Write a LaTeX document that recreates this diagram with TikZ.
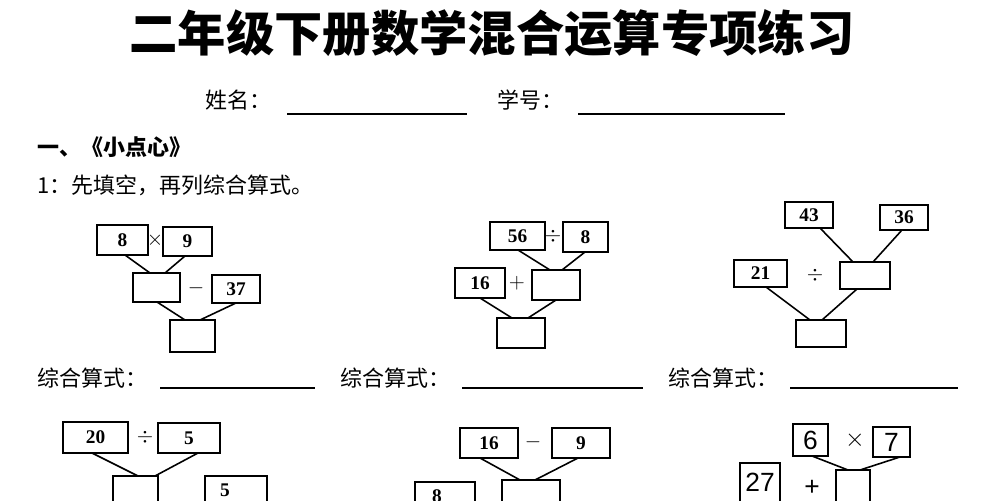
\documentclass[tikz,border=0pt]{standalone}
\usepackage{fontspec}
\setmainfont{Liberation Serif}
\newfontfamily\cjk{Noto Sans CJK SC}
\newfontfamily\sansf{Liberation Sans}
\begin{document}
\begin{tikzpicture}[x=0.02cm,y=-0.02cm,
 bx/.style={draw,line width=1.1pt},
 num/.style={font=\bfseries\fontsize{11pt}{11pt}\selectfont},
 big/.style={font=\sansf\fontsize{15pt}{15pt}\selectfont},
 op/.style={font=\fontsize{12pt}{12pt}\selectfont},
 ln/.style={line width=0.9pt},
 lbl/.style={anchor=west,inner sep=0,font=\cjk\fontsize{12.5pt}{14pt}\selectfont}]
\useasboundingbox (0,0) rectangle (1000,500);
\clip (0,0) rectangle (1000,500);
\node[font=\cjk\bfseries\fontsize{27.5pt}{30pt}\selectfont] (title) at (492,33) {二年级下册数学混合运算专项练习};
\node[lbl] (xm) at (205,100) {姓名：};
\draw[line width=0.8pt] (287,114) -- (467,114);
\node[lbl] (xh) at (497,100) {学号：};
\draw[line width=0.8pt] (578,114) -- (785,114);
\node[lbl,font=\cjk\bfseries\fontsize{12.5pt}{14pt}\selectfont] (s1) at (37,147) {一、《小点心》};
\node[lbl] (q1) at (37,185) {1：先填空，再列综合算式。};
% D1
\draw[bx] (97,225) rectangle (148,255) node[midway,num] (a1) {8};
\node[op] (a3) at (155,240) {$\times$};
\draw[bx] (163,227) rectangle (212,256) node[midway,num] (a2) {9};
\draw[bx] (133,273) rectangle (180,302);
\node[op] (a4) at (196,288) {$-$};
\draw[bx] (212,275) rectangle (260,303) node[midway,num] (a5) {37};
\draw[bx] (170,320) rectangle (215,352);
\draw[ln] (125,255)--(150,273) (185,256)--(165,273) (157,302)--(185,320) (236,303)--(200,320);
% D2
\draw[bx] (490,222) rectangle (545,250) node[midway,num] (b1) {56};
\node[op] (b2) at (553,236) {$\div$};
\draw[bx] (563,222) rectangle (608,252) node[midway,num] (b3) {8};
\draw[bx] (455,268) rectangle (505,298) node[midway,num] (b4) {16};
\node[op] (b5) at (517,283) {$+$};
\draw[bx] (532,270) rectangle (580,300);
\draw[bx] (497,318) rectangle (545,348);
\draw[ln] (518,250)--(550,270) (585,252)--(562,270) (480,298)--(512,318) (556,300)--(528,318);
% D3
\draw[bx] (785,202) rectangle (833,228) node[midway,num] (c1) {43};
\draw[bx] (880,205) rectangle (928,230) node[midway,num] (c2) {36};
\draw[bx] (734,260) rectangle (787,287) node[midway,num] (c3) {21};
\node[op] (c4) at (815,275) {$\div$};
\draw[bx] (840,262) rectangle (890,289);
\draw[bx] (796,320) rectangle (846,347);
\draw[ln] (820,228)--(853,262) (902,230)--(873,262) (766,287)--(810,320) (857,289)--(822,320);
% formula lines
\node[lbl] (f1) at (37,378) {综合算式：};
\draw[line width=0.8pt] (160,388) -- (315,388);
\node[lbl] (f2) at (340,378) {综合算式：};
\draw[line width=0.8pt] (462,388) -- (643,388);
\node[lbl] (f3) at (668,378) {综合算式：};
\draw[line width=0.8pt] (790,388) -- (958,388);
% D4
\draw[bx] (63,422) rectangle (128,453) node[midway,num] (d1) {20};
\node[op] (d2) at (145,437) {$\div$};
\draw[bx] (158,423) rectangle (220,453) node[midway,num] (d3) {5};
\draw[bx] (113,476) rectangle (158,520);
\draw[bx] (205,476) rectangle (267,520);
\node[num] (d4) at (225,490) {5};
\draw[ln] (92,453)--(138,476) (198,453)--(155,476);
% D5
\draw[bx] (460,428) rectangle (518,458) node[midway,num] (e1) {16};
\node[op] (e2) at (533,442) {$-$};
\draw[bx] (552,428) rectangle (610,458) node[midway,num] (e3) {9};
\draw[bx] (415,482) rectangle (475,520);
\node[num] (e4) at (437,496) {8};
\draw[bx] (502,480) rectangle (560,520);
\draw[ln] (480,458)--(520,480) (578,458)--(535,480);
% D6
\draw[bx] (793,424) rectangle (828,456) node[midway,big] (g1) {6};
\node[big] (g2) at (855,440) {$\times$};
\draw[bx] (873,427) rectangle (910,457) node[midway,big] (g3) {7};
\draw[bx] (740,463) rectangle (780,520);
\node[big] (g4) at (760,482) {27};
\node[big] (g5) at (812,488) {+};
\draw[bx] (836,470) rectangle (870,520);
\draw[ln] (812,456)--(848,470) (900,457)--(860,470);
\end{tikzpicture}
\end{document}
